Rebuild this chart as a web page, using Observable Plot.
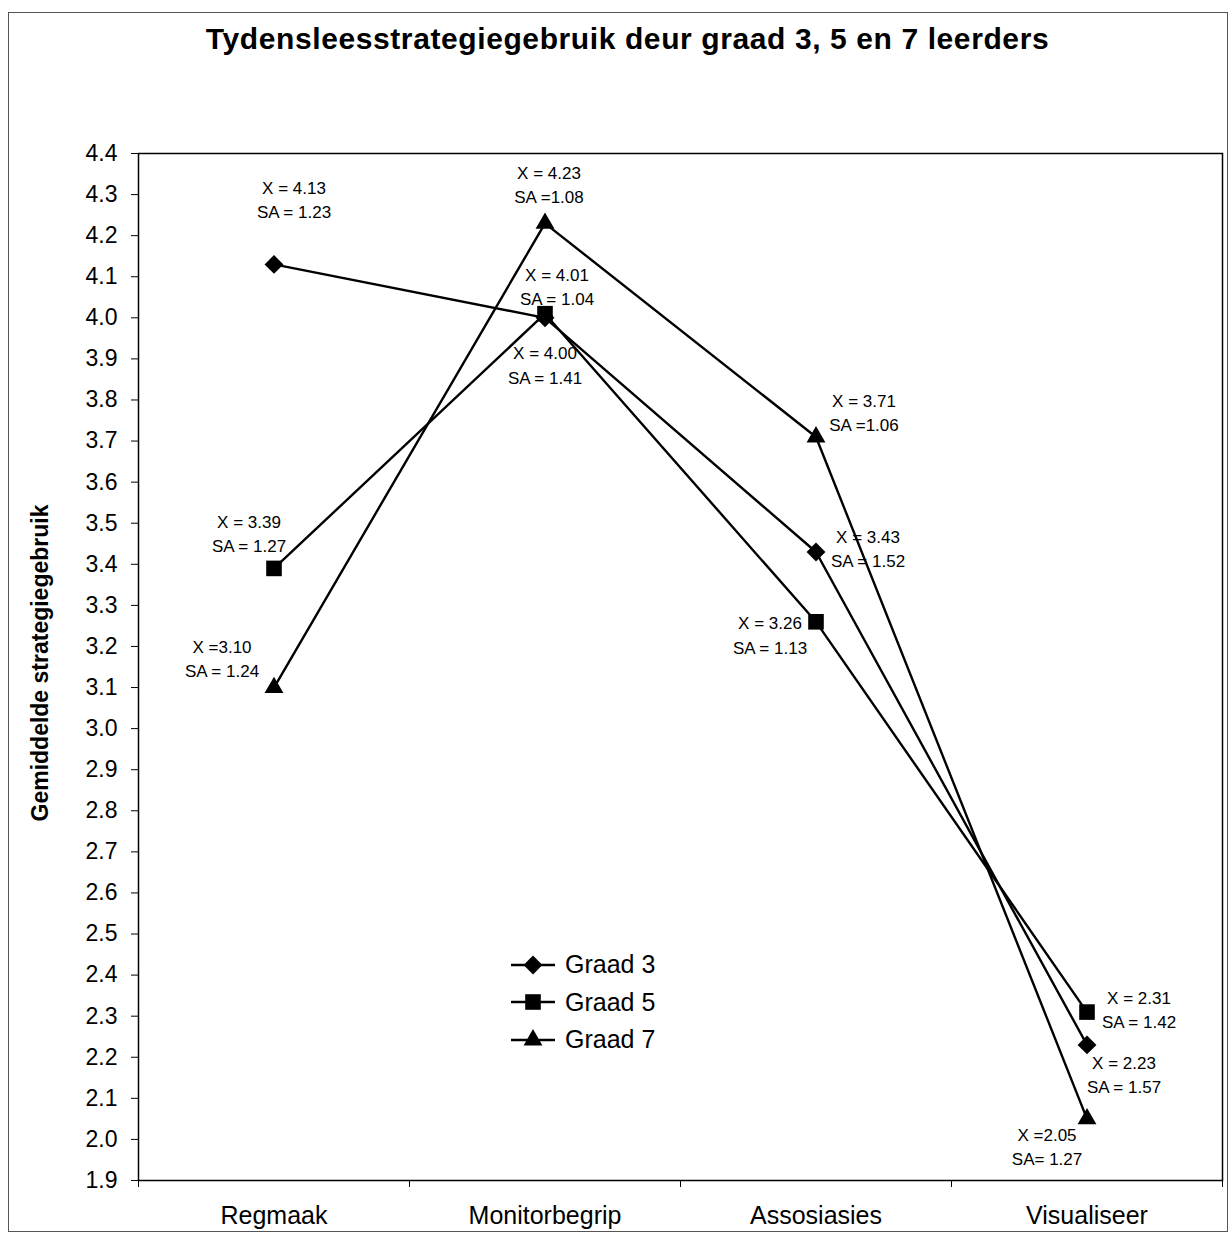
<!DOCTYPE html>
<html>
<head>
<meta charset="utf-8">
<script src="https://cdn.jsdelivr.net/npm/d3@7"></script>
<script src="https://cdn.jsdelivr.net/npm/@observablehq/plot@0.6"></script>
<style>
  body { margin: 0; background: #fff; }
  #wrap { position: relative; width: 1229px; height: 1234px; font-family: "Liberation Sans", Arial, sans-serif; color: #000; }
  #title { position: absolute; top: 22px; left: 13px; width: 1229px; text-align: center; font-weight: bold; font-size: 30px; letter-spacing: 0.6px; }
  #chart { position: absolute; top: 80px; left: 0; }
  #ylabel { position: absolute; left: 40px; top: 663px; transform: translate(-50%, -50%) rotate(-90deg); white-space: nowrap; font-weight: bold; font-size: 23px; }
  #border { position: absolute; left: 8px; top: 12px; width: 1220px; height: 1220px; border: 1px solid #555; box-sizing: border-box; }
  #legend { position: absolute; left: 510px; top: 946px; font-size: 25px; }
  #legend .row { display: flex; align-items: center; height: 37.5px; }
  #legend svg { margin-right: 9px; }
</style>
</head>
<body>
<div id="wrap">
  <div id="border"></div>
  <div id="title"></div>
  <div id="chart"></div>
  <div id="ylabel"></div>
  <div id="legend"></div>
</div>
<script>
const titleText = "Tydensleesstrategiegebruik deur graad 3, 5 en 7 leerders";
const yLabel = "Gemiddelde strategiegebruik";
const categories = ["Regmaak", "Monitorbegrip", "Assosiasies", "Visualiseer"];
const series = ["Graad 3", "Graad 5", "Graad 7"];
const graad3 = [4.13, 4.00, 3.43, 2.23];
const graad5 = [3.39, 4.01, 3.26, 2.31];
const graad7 = [3.10, 4.23, 3.71, 2.05];
const labels3 = [["X = 4.13", "SA = 1.23"], ["X = 4.00", "SA = 1.41"], ["X = 3.43", "SA = 1.52"], ["X = 2.23", "SA = 1.57"]];
const labels5 = [["X = 3.39", "SA = 1.27"], ["X = 4.01", "SA = 1.04"], ["X = 3.26", "SA = 1.13"], ["X = 2.31", "SA = 1.42"]];
const labels7 = [["X =3.10", "SA = 1.24"], ["X = 4.23", "SA =1.08"], ["X = 3.71", "SA =1.06"], ["X =2.05", "SA= 1.27"]];
const yTicks = d3.range(19, 45).map(d => d / 10);

// label placement offsets (pixels) relative to each point
const offsets3 = [[20, -66], [0, 46], [52, -5], [37, 28]];
const offsets5 = [[-25, -36], [12, -28], [-46, 12], [52, -4]];
const offsets7 = [[-52, -30], [4, -40], [48, -26], [-40, 26]];

const symbols = ["diamond2", "square", "triangle"];
const radii = [8.5, 8.8, 7];

const values = [graad3, graad5, graad7];
const labels = [labels3, labels5, labels7];
const offsets = [offsets3, offsets5, offsets7];

const rows = [];
series.forEach((s, k) => {
  categories.forEach((c, i) => {
    rows.push({series: s, cat: c, x: i + 0.5, y: values[k][i], label: labels[k][i].join("\n"), off: offsets[k][i]});
  });
});

document.getElementById("title").textContent = titleText;
document.getElementById("ylabel").textContent = yLabel;

const marks = [
  Plot.frame({stroke: "black", strokeWidth: 1.5}),
  Plot.axisY({ticks: yTicks, tickFormat: d3.format(".1f"), tickSize: 7, tickPadding: 14, fontSize: 23, label: null}),
  Plot.axisX({ticks: categories.map((c, i) => i + 0.5), tickFormat: d => categories[Math.round(d - 0.5)], tickSize: 0, tickPadding: 26, fontSize: 25, label: null}),
  Plot.axisX({ticks: d3.range(0, categories.length + 1), tickSize: 7, tickFormat: () => "", label: null}),
  Plot.line(rows, {x: "x", y: "y", z: "series", stroke: "black", strokeWidth: 2.4})
];
series.forEach((s, k) => {
  marks.push(Plot.dot(rows.filter(d => d.series === s), {x: "x", y: "y", symbol: () => symbols[k], fill: "black", stroke: "none", r: radii[k]}));
});
rows.forEach(d => {
  marks.push(Plot.text([d], {x: "x", y: "y", text: "label", dx: d.off[0], dy: d.off[1], fontSize: 17, lineHeight: 1.42, lineAnchor: "middle", textAnchor: "middle", fill: "black"}));
});

const chart = Plot.plot({
  width: 1229,
  height: 1154,
  marginTop: 73,
  marginBottom: 54,
  marginLeft: 138,
  marginRight: 7,
  style: {fontFamily: "Liberation Sans, Arial, sans-serif", color: "black", background: "transparent", overflow: "visible"},
  x: {domain: [0, categories.length], axis: null},
  y: {domain: [1.9, 4.4], axis: null},
  symbol: {domain: symbols, range: symbols},
  marks
});
document.getElementById("chart").appendChild(chart);

// legend
const legend = document.getElementById("legend");
series.forEach((s, k) => {
  const row = document.createElement("div");
  row.className = "row";
  const svg = d3.create("svg").attr("width", 46).attr("height", 24);
  svg.append("line").attr("x1", 1).attr("x2", 45).attr("y1", 12).attr("y2", 12).attr("stroke", "black").attr("stroke-width", 2.4);
  const sym = k === 0 ? d3.symbolDiamond2 : k === 1 ? d3.symbolSquare : d3.symbolTriangle;
  svg.append("path").attr("d", d3.symbol(sym, Math.PI * radii[k] * radii[k])()).attr("transform", "translate(23,12)").attr("fill", "black");
  row.appendChild(svg.node());
  const span = document.createElement("span");
  span.textContent = s;
  row.appendChild(span);
  legend.appendChild(row);
});
</script>
</body>
</html>
